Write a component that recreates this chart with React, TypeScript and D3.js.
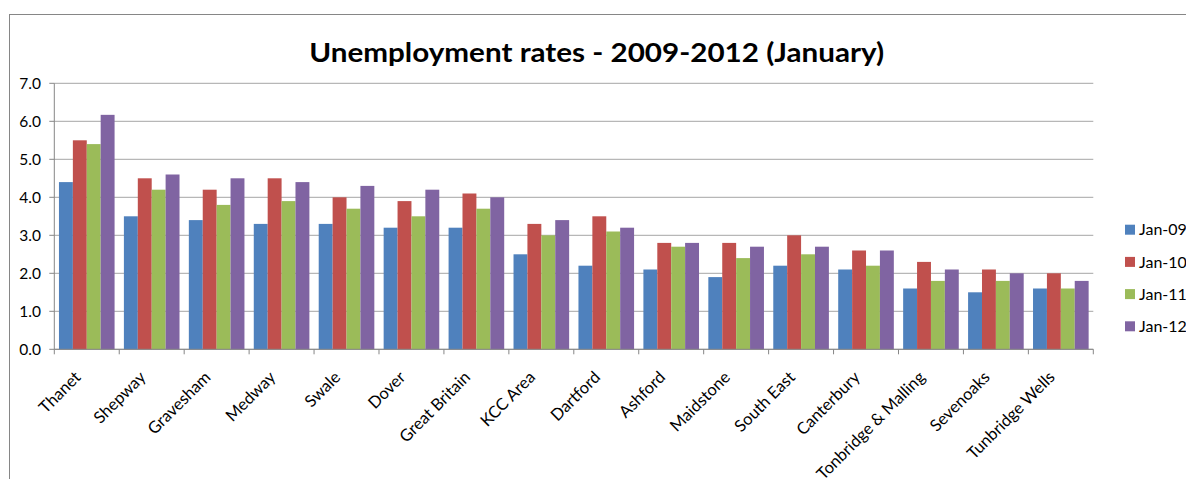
import React from "react";
import * as d3 from "d3";

const categories = [
  "Thanet", "Shepway", "Gravesham", "Medway", "Swale", "Dover", "Great Britain", "KCC Area",
  "Dartford", "Ashford", "Maidstone", "South East", "Canterbury", "Tonbridge & Malling", "Sevenoaks", "Tunbridge Wells",
];
const seriesNames = ["Jan-09", "Jan-10", "Jan-11", "Jan-12"];
const jan09 = [4.4, 3.5, 3.4, 3.3, 3.3, 3.2, 3.2, 2.5, 2.2, 2.1, 1.9, 2.2, 2.1, 1.6, 1.5, 1.6];
const jan10 = [5.5, 4.5, 4.2, 4.5, 4.0, 3.9, 4.1, 3.3, 3.5, 2.8, 2.8, 3.0, 2.6, 2.3, 2.1, 2.0];
const jan11 = [5.4, 4.2, 3.8, 3.9, 3.7, 3.5, 3.7, 3.0, 3.1, 2.7, 2.4, 2.5, 2.2, 1.8, 1.8, 1.6];
const jan12 = [6.17, 4.6, 4.5, 4.4, 4.3, 4.2, 4.0, 3.4, 3.2, 2.8, 2.7, 2.7, 2.6, 2.1, 2.0, 1.8];
const seriesValues = [jan09, jan10, jan11, jan12];
const yTicks = [0, 1, 2, 3, 4, 5, 6, 7];
const colors = ["#4F81BD", "#C0504D", "#9BBB59", "#8064A2"];
const title = "Unemployment rates - 2009-2012 (January)";

const W = 1186;
const H = 479;
const left = 54.3;
const right = 1093.3;
const top = 83.3;
const bottom = 349.3;
const font = "Lato, 'Open Sans', sans-serif";

export default function App() {
  const y = d3.scaleLinear().domain([0, 7]).range([bottom, top]);
  const x0 = d3.scaleBand<string>().domain(categories).range([left, right]).paddingInner(0).paddingOuter(0);
  const step = x0.step();
  const gap = step * 0.1435;
  const x1 = d3.scaleBand<string>().domain(seriesNames).range([gap / 2, step - gap / 2]).padding(0);
  const boundaries = d3.range(categories.length + 1).map((i) => left + i * step);

  return (
    <svg width={W} height={H} style={{ position: "absolute", left: 0, top: 0, background: "#fff" }}>
      <rect x={9.5} y={14.5} width={1300} height={600} fill="#fff" stroke="#868686" strokeWidth={1} />
      <text
        x={596.7}
        y={61.7}
        textAnchor="middle"
        fontFamily={font}
        fontWeight="bold"
        fontSize={27}
        textLength={575}
        lengthAdjust="spacingAndGlyphs"
        fill="#000"
      >
        {title}
      </text>
      {yTicks.map((t) => (
        <g key={t}>
          <line x1={left} x2={right} y1={y(t)} y2={y(t)} stroke="#a6a6a6" strokeWidth={1} />
          <line x1={left - 5} x2={left} y1={y(t)} y2={y(t)} stroke="#868686" />
          <text x={41} y={y(t)} dy="0.36em" textAnchor="end" fontFamily={font} fontSize={15.5} fill="#000">
            {d3.format(".1f")(t)}
          </text>
        </g>
      ))}
      {seriesValues.map((vals, si) =>
        vals.map((v, ci) => (
          <rect
            key={`${si}-${ci}`}
            x={(x0(categories[ci]) as number) + (x1(seriesNames[si]) as number)}
            y={y(v)}
            width={x1.bandwidth()}
            height={y(0) - y(v)}
            fill={colors[si]}
          />
        ))
      )}
      <line x1={left} x2={left} y1={top} y2={bottom} stroke="#868686" />
      <line x1={left} x2={right} y1={bottom} y2={bottom} stroke="#868686" />
      {boundaries.map((bx, i) => (
        <line key={i} x1={bx} x2={bx} y1={bottom} y2={bottom + 5} stroke="#868686" />
      ))}
      {categories.map((c) => {
        const cx = (x0(c) as number) + step / 2 - 5;
        const cy = bottom + 29;
        return (
          <text
            key={c}
            x={cx}
            y={cy}
            textAnchor="end"
            transform={`rotate(-45 ${cx} ${cy})`}
            fontFamily={font}
            fontSize={16.5}
            fill="#000"
          >
            {c}
          </text>
        );
      })}
      {seriesNames.map((s, i) => {
        const ly = 229.7 + i * 32.2;
        return (
          <g key={s}>
            <rect x={1125} y={ly - 5} width={10} height={10} fill={colors[i]} />
            <text x={1139} y={ly} dy="0.36em" fontFamily={font} fontSize={16} fill="#000">
              {s}
            </text>
          </g>
        );
      })}
    </svg>
  );
}
